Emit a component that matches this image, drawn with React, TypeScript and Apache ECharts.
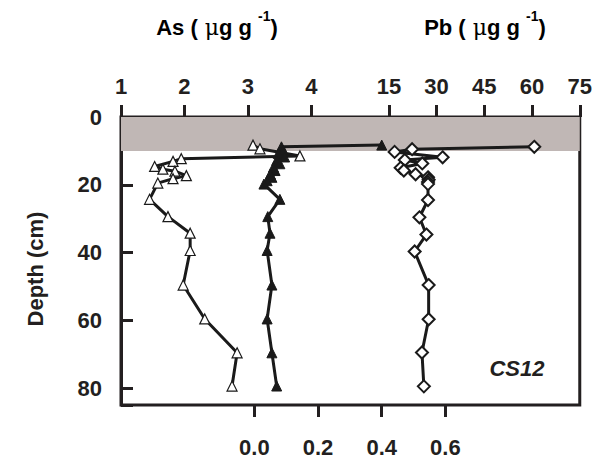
import React, { useEffect, useRef } from "react";
import * as echarts from "echarts";

// Depth (cm) and As (µg g-1), open triangles, top axis
const asDepth = [8.3, 9.4, 11.5, 12.3, 13.1, 14.6, 15.4, 16.0, 17.3, 18.2, 19.5, 24.3, 29.4, 34.3, 39.4, 49.6, 59.6, 69.6, 79.4];
const asValues = [3.08, 3.19, 3.82, 1.95, 1.82, 1.53, 1.66, 1.85, 2.03, 1.82, 1.58, 1.45, 1.74, 2.09, 2.09, 1.98, 2.32, 2.83, 2.75];

// Filled triangles, bottom axis
const lowDepth = [8.3, 8.8, 9.8, 10.8, 11.8, 12.8, 13.8, 14.8, 15.8, 16.8, 17.8, 18.8, 19.8, 24.3, 29.4, 34.3, 39.4, 49.6, 59.6, 69.6, 79.4];
const lowValues = [0.40, 0.085, 0.09, 0.075, 0.095, 0.07, 0.08, 0.06, 0.065, 0.05, 0.055, 0.04, 0.03, 0.08, 0.042, 0.049, 0.04, 0.055, 0.04, 0.055, 0.07];

// Pb (µg g-1), open diamonds, top axis
const pbDepth = [8.8, 9.5, 10.3, 11.9, 12.7, 13.7, 15.0, 15.8, 16.9, 17.8, 18.5, 19.2, 19.8, 24.5, 29.6, 34.7, 39.7, 49.6, 59.7, 69.5, 79.5];
const pbValues = [60.7, 22.3, 16.8, 31.9, 20.0, 25.5, 18.7, 19.7, 23.4, 27.3, 27.5, 27.3, 27.3, 27.3, 24.6, 26.8, 23.1, 27.5, 27.5, 25.4, 26.0];

const asTicks = [1, 2, 3, 4];
const pbTicks = [15, 30, 45, 60, 75];
const lowTicks = [0, 0.2, 0.4, 0.6];
const depthTicks = [0, 20, 40, 60, 80];

const FONT = "'Liberation Sans', Arial, sans-serif";
const INK = "#231f20";
const TICK_LEN = 12;

const labelStyle = { fontFamily: FONT, fontSize: 22, fontWeight: "bold" as const, color: INK };

function pairs(xs: number[], ys: number[]) {
  return xs.map((x, i) => [x, ys[i]]);
}

export default function App() {
  const ref = useRef<HTMLDivElement>(null);
  useEffect(() => {
    if (!ref.current) return;
    const chart = echarts.init(ref.current, null, { renderer: "svg" });
    const tick = (vals: number[], inside: boolean) => ({
      show: true,
      inside,
      length: TICK_LEN,
      customValues: vals,
      lineStyle: { color: INK, width: 3 },
    });
    const titleRich = {
      b: { fontFamily: FONT, fontSize: 22, fontWeight: "bold", color: INK },
      m: { fontFamily: "'DejaVu Serif', serif", fontSize: 22, fontWeight: "normal", color: INK },
      s: { fontFamily: FONT, fontSize: 14, fontWeight: "bold", color: INK, padding: [0, 0, 22, 0] },
    };
    chart.setOption({
      animation: false,
      backgroundColor: "#fff",
      grid: {
        left: 121,
        top: 117,
        right: 13,
        bottom: 61,
        show: true,
        borderColor: INK,
        borderWidth: 3,
        backgroundColor: "transparent",
      },
      xAxis: [
        {
          type: "value",
          position: "top",
          min: 1,
          max: 8.23,
          axisLine: { show: false, onZero: false },
          axisTick: tick(asTicks, false),
          axisLabel: { ...labelStyle, margin: 20, customValues: asTicks },
          splitLine: { show: false },
        },
        {
          type: "value",
          position: "top",
          min: -69.2,
          max: 75,
          axisLine: { show: false, onZero: false },
          axisTick: tick(pbTicks, false),
          axisLabel: { ...labelStyle, margin: 20, customValues: pbTicks },
          splitLine: { show: false },
        },
        {
          type: "value",
          position: "bottom",
          min: -0.419,
          max: 1.022,
          axisLine: { show: false, onZero: false },
          axisTick: tick(lowTicks, false),
          axisLabel: {
            ...labelStyle,
            margin: 31,
            customValues: lowTicks,
            formatter: (v: number) => v.toFixed(1),
          },
          splitLine: { show: false },
        },
      ],
      yAxis: {
        type: "value",
        inverse: true,
        min: 0,
        max: 85,
        interval: 20,
        position: "left",
        axisLine: { show: true, onZero: false, lineStyle: { color: INK, width: 3 } },
        axisTick: { show: true, inside: true, length: TICK_LEN, lineStyle: { color: INK, width: 3 } },
        axisLabel: { ...labelStyle, margin: 19, customValues: depthTicks },
        splitLine: { show: false },
      },
      graphic: [
        {
          type: "text",
          x: 217,
          y: 27,
          style: {
            text: "{b|As (}{m| μ}{b|g g }{s|-1}{b|)}",
            rich: titleRich,
            textAlign: "center",
            textVerticalAlign: "middle",
          },
        },
        {
          type: "text",
          x: 485,
          y: 27,
          style: {
            text: "{b|Pb (}{m| μ}{b|g g }{s|-1}{b|)}",
            rich: titleRich,
            textAlign: "center",
            textVerticalAlign: "middle",
          },
        },
        {
          type: "text",
          x: 35,
          y: 269,
          rotation: Math.PI / 2,
          style: {
            text: "Depth (cm)",
            fontFamily: FONT,
            fontSize: 22,
            fontWeight: "bold",
            fill: INK,
            textAlign: "center",
            textVerticalAlign: "middle",
          },
        },
        {
          type: "text",
          x: 517,
          y: 368,
          style: {
            text: "CS12",
            fontFamily: FONT,
            fontSize: 22,
            fontWeight: "bold",
            fontStyle: "italic",
            fill: INK,
            textAlign: "center",
            textVerticalAlign: "middle",
          },
        },
      ],
      series: [
        {
          type: "line",
          name: "As",
          xAxisIndex: 0,
          data: pairs(asValues, asDepth),
          symbol: "triangle",
          symbolSize: 10,
          lineStyle: { color: "#1a1a1a", width: 3 },
          itemStyle: { color: "#fff", borderColor: "#1a1a1a", borderWidth: 1.2 },
          markArea: {
            silent: true,
            itemStyle: { color: "#c0b7b5" },
            data: [[{ yAxis: 0 }, { yAxis: 10 }]],
          },
          z: 3,
        },
        {
          type: "line",
          name: "low",
          xAxisIndex: 2,
          data: pairs(lowValues, lowDepth),
          symbol: "triangle",
          symbolSize: 10,
          lineStyle: { color: "#1a1a1a", width: 3 },
          itemStyle: { color: "#1a1a1a", borderColor: "#1a1a1a", borderWidth: 1 },
          z: 4,
        },
        {
          type: "line",
          name: "Pb",
          xAxisIndex: 1,
          data: pairs(pbValues, pbDepth),
          symbol: "diamond",
          symbolSize: 12,
          lineStyle: { color: "#1a1a1a", width: 3 },
          itemStyle: { color: "#fff", borderColor: "#1a1a1a", borderWidth: 2 },
          z: 5,
        },
      ],
    });
    return () => chart.dispose();
  }, []);
  return (
    <div
      ref={ref}
      style={{ position: "fixed", left: 0, top: 0, width: 595, height: 466, background: "#fff" }}
    />
  );
}
